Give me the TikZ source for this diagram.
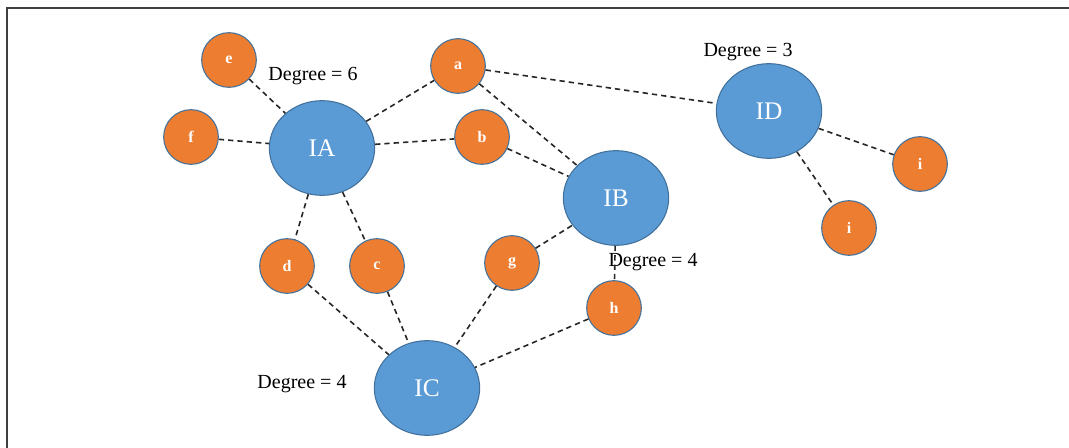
\documentclass[tikz,border=0pt]{standalone}
\usepackage{fontspec}
\setmainfont{Liberation Serif}
\usepackage{xcolor}
\usepackage{tikz}
\usetikzlibrary{shapes.geometric}
\definecolor{HubBlue}{RGB}{91,155,213}
\definecolor{LeafOrange}{RGB}{237,125,49}
\definecolor{RimBlue}{RGB}{65,113,156}

\begin{document}
\begin{tikzpicture}[x=0.75pt, y=-0.75pt,
    hub/.style={draw=RimBlue, ellipse, fill=HubBlue, line width=0.8pt, minimum width=79pt, minimum height=71pt, inner sep=0pt, text=white, font=\fontsize{19}{19}\selectfont},
    leaf/.style={draw=RimBlue, circle, fill=LeafOrange, line width=0.8pt, minimum size=41pt, inner sep=0pt, text=white, font=\fontsize{12}{12}\selectfont\bfseries},
    link/.style={dash pattern=on 4pt off 3pt, line width=1.2pt, black!85},
    degree/.style={font=\fontsize{15}{15}\selectfont}]
    \useasboundingbox (0,0) rectangle (1069,448);
    \draw[line width=1.5pt, black!75] (7,448) -- (7,8) -- (1069,8);

    % hubs
    \node (IA) [hub] at (322,148) {IA};
    \node (IB) [hub] at (616,198) {IB};
    \node (IC) [hub] at (427,388) {IC};
    \node (ID) [hub] at (769,111) {ID};

    % leaves
    \node (e) [leaf] at (229,60) {e};
    \node (f) [leaf] at (191,137) {f};
    \node (a) [leaf] at (458,66) {a};
    \node (b) [leaf] at (482,137) {b};
    \node (d) [leaf] at (287,266) {d};
    \node (c) [leaf] at (377,266) {c};
    \node (g) [leaf] at (512,263) {g};
    \node (h) [leaf] at (614,308) {h};
    \node (i1) [leaf] at (920,164) {i};
    \node (i2) [leaf] at (849,228) {i};

    \node (degA) [degree] at (313,76) {Degree = 6};
    \node (degD) [degree] at (748,52) {Degree = 3};
    \node (degB) [degree] at (653,262) {Degree = 4};
    \node (degC) [degree] at (302,384) {Degree = 4};

    \draw[link] (e) -- (IA);
    \draw[link] (f) -- (IA);
    \draw[link] (IA) -- (a);
    \draw[link] (IA) -- (b);
    \draw[link] (IA) -- (d);
    \draw[link] (IA) -- (c);
    \draw[link] (a) -- (IB);
    \draw[link] (b) -- (IB);
    \draw[link] (a) -- (ID);
    \draw[link] (g) -- (IB);
    \draw[link] (IB) -- (h);
    \draw[link] (d) -- (IC);
    \draw[link] (c) -- (IC);
    \draw[link] (g) -- (IC);
    \draw[link] (h) -- (IC);
    \draw[link] (ID) -- (i1);
    \draw[link] (ID) -- (i2);
\end{tikzpicture}
\end{document}
